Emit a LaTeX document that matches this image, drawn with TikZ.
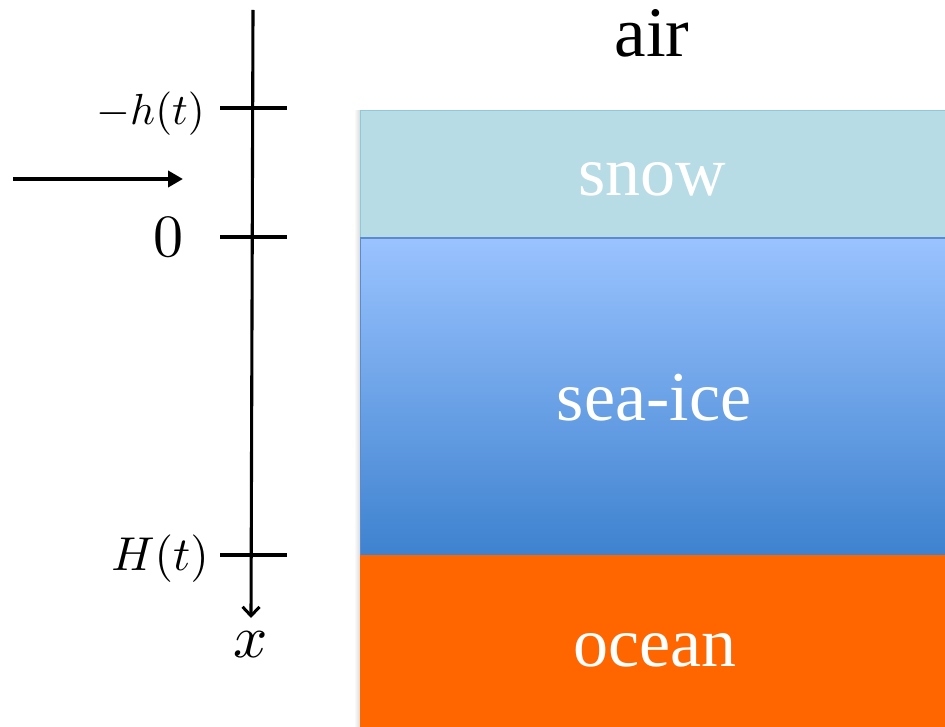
\documentclass[tikz,border=0pt]{standalone}
\usepackage{graphicx}
\usepackage{fontspec}
\setmainfont{Liberation Serif}
\usetikzlibrary{arrows.meta}
\definecolor{snowfill}{HTML}{B7DCE6}
\definecolor{snowedge}{HTML}{8EC9D9}
\definecolor{icetop}{HTML}{9AC3FF}
\definecolor{icebot}{HTML}{3E82CF}
\definecolor{iceedge}{HTML}{5A8AD0}
\definecolor{oceanfill}{HTML}{FF6600}
\tikzset{
  tick/.style={line width=3.1pt},
  axisline/.style={line width=3.1pt},
  layertext/.style={text=white, font=\fontsize{70}{80}\selectfont, inner sep=0pt},
  mlabel/.style={inner sep=0pt},
}
\begin{document}
\begin{tikzpicture}[x=1pt,y=-1pt]
\useasboundingbox (0,0) rectangle (945,727);
% layers
\shade[left color=white, right color=black!14] (354,111) rectangle (360,727);
\fill[snowfill] (360,110) rectangle (945,238);
\draw[snowedge, line width=1.2pt] (945,110.6) -- (360.6,110.6) -- (360.6,238);
\shade[top color=icetop, bottom color=icebot] (360,238) rectangle (945,555);
\draw[iceedge, line width=1.2pt] (945,238) -- (360.6,238) -- (360.6,555);
\fill[oceanfill] (360,555) rectangle (945,727);
\node[layertext, anchor=base] (snow) at (652,196) {snow};
\node[layertext, anchor=base] (ice) at (654,420) {sea-ice};
\node[layertext, anchor=base] (ocean) at (655,666) {ocean};
\node[inner sep=0pt, anchor=base, font=\fontsize{71}{80}\selectfont] (air) at (652,57) {air};
% axis
\coordinate (top) at (253,10);
\coordinate (bot) at (251,618);
\draw[axisline, -{Straight Barb[length=9pt,width=17pt,line width=3pt]}] (top) -- (bot);
\coordinate (t1a) at (220,108); \coordinate (t1b) at (287,108);
\coordinate (t2a) at (220,237); \coordinate (t2b) at (287,237);
\coordinate (t3a) at (220,555); \coordinate (t3b) at (287,555);
\draw[tick] (t1a) -- (t1b);
\draw[tick] (t2a) -- (t2b);
\draw[tick] (t3a) -- (t3b);
\node[mlabel, anchor=base east] (lh) at (205,125) {\scalebox{4.35}{$-h(t)$}};
\node[mlabel, anchor=base] (l0) at (168,257) {\scalebox{6.0}{$0$}};
\node[mlabel, anchor=base east] (lH) at (209,570) {\scalebox{4.75}{$H(t)$}};
\node[mlabel, anchor=base] (lx) at (251,657) {\scalebox{6.0}{$x$}};
% input arrow
\coordinate (aS) at (13,179);
\coordinate (aE) at (183,179);
\draw[line width=4.8pt, -{Triangle[length=15pt,width=16pt]}] (aS) -- (aE);
\end{tikzpicture}
\end{document}
